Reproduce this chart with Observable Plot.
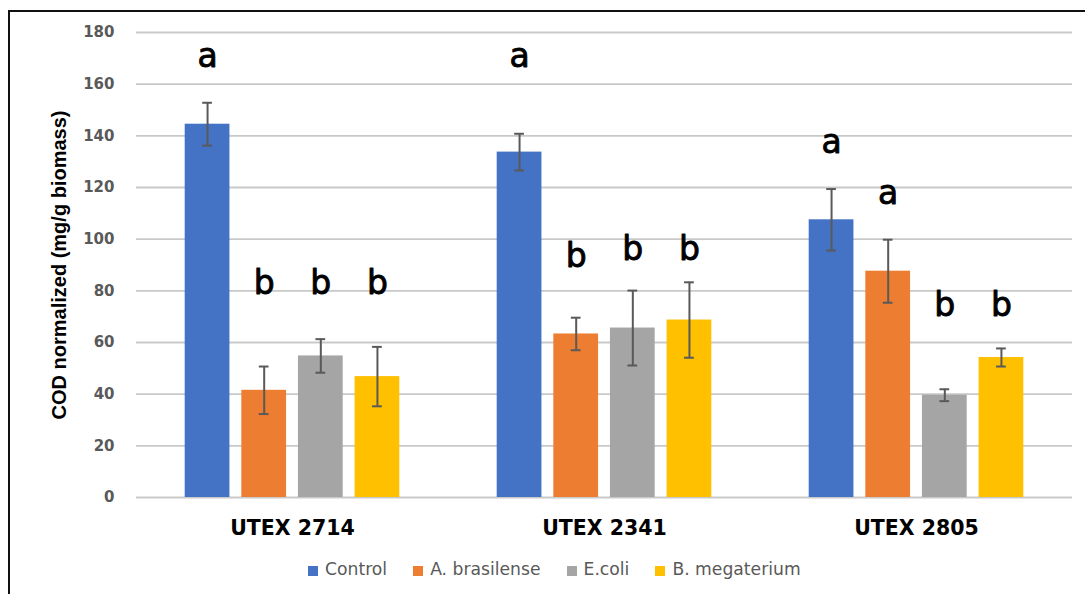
<!DOCTYPE html>
<html>
<head>
<meta charset="utf-8">
<script src="https://cdn.jsdelivr.net/npm/d3@7"></script>
<script src="https://cdn.jsdelivr.net/npm/@observablehq/plot@0.6"></script>
<style>
  html, body { margin: 0; padding: 0; background: #fff; overflow: hidden; }
  #wrap { position: relative; width: 1085px; height: 594px; }
  #frame { position: absolute; left: 7.5px; top: 9.5px; width: 1200px; height: 700px;
           border-left: 2px solid #111; border-top: 2px solid #111; box-sizing: border-box; }
  #chart { position: absolute; left: 0; top: 0; }
  #ytitle { position: absolute; left: 58.5px; top: 265px; transform: translate(-50%, -50%) rotate(-90deg);
            white-space: nowrap; font: bold 20px "Liberation Sans", Arial, sans-serif; color: #000; }
  #legend { position: absolute; left: 308px; top: 559px; display: flex; align-items: center;
            font: 17.2px "DejaVu Sans", sans-serif; color: #595959; line-height: 20px; white-space: nowrap; }
  #legend .item { display: flex; align-items: center; margin-right: 26px; }
  #legend .sw { width: 10px; height: 10px; margin-right: 7px; margin-top: 3px; }
</style>
</head>
<body>
<div id="wrap">
  <div id="frame"></div>
  <div id="chart"></div>
  <div id="ytitle">COD normalized (mg/g biomass)</div>
  <div id="legend"></div>
</div>
<script>
// ---- data ----
const groups = ["UTEX 2714", "UTEX 2341", "UTEX 2805"];
const series = ["Control", "A. brasilense", "E.coli", "B. megaterium"];
const colors = ["#4472C4", "#ED7D31", "#A5A5A5", "#FFC000"];
const yTicks = [0, 20, 40, 60, 80, 100, 120, 140, 160, 180];

const controlMean    = [144.5, 133.7, 107.5];
const brasilenseMean = [41.5, 63.3, 87.6];
const ecoliMean      = [54.8, 65.6, 39.6];
const megateriumMean = [46.8, 68.7, 54.2];

const controlErr    = [8.3, 7.1, 11.9];
const brasilenseErr = [9.2, 6.3, 12.2];
const ecoliErr      = [6.5, 14.5, 2.3];
const megateriumErr = [11.5, 14.6, 3.5];

const controlLetter    = ["a", "a", "a"];
const brasilenseLetter = ["b", "b", "a"];
const ecoliLetter      = ["b", "b", "b"];
const megateriumLetter = ["b", "b", "b"];

// letter baseline heights (in y units)
const controlLetterY    = [166.5, 166.5, 133.3];
const brasilenseLetterY = [78.6, 89.4, 113.7];
const ecoliLetterY      = [78.6, 92.1, 70.2];
const megateriumLetterY = [78.6, 92.1, 70.2];

// ---- build table ----
const means = [controlMean, brasilenseMean, ecoliMean, megateriumMean];
const errs = [controlErr, brasilenseErr, ecoliErr, megateriumErr];
const letters = [controlLetter, brasilenseLetter, ecoliLetter, megateriumLetter];
const letterYs = [controlLetterY, brasilenseLetterY, ecoliLetterY, megateriumLetterY];

const data = [];
groups.forEach((g, gi) => {
  series.forEach((s, si) => {
    data.push({
      group: g, series: s,
      value: means[si][gi], err: errs[si][gi],
      letter: letters[si][gi], ly: letterYs[si][gi]
    });
  });
});

const errColor = "#595959";
const gridColor = "#c9c9c9";

const chart = Plot.plot({
  width: 1085,
  height: 594,
  marginTop: 32,
  marginBottom: 97,
  marginLeft: 135,
  marginRight: 12,
  style: { fontFamily: "DejaVu Sans, sans-serif", background: "transparent", overflow: "visible" },
  fx: { domain: groups, padding: 0, axis: null },
  x: { domain: series, paddingInner: 0.21, paddingOuter: 0.86, round: false, axis: null },
  y: { domain: [0, 180], axis: null },
  color: { domain: series, range: colors },
  marks: [
    Plot.gridY(yTicks, { stroke: gridColor, strokeOpacity: 1, strokeWidth: 1.8 }),
    Plot.barY(data, { fx: "group", x: "series", y: "value", fill: "series" }),
    Plot.ruleX(data, { fx: "group", x: "series", y1: d => d.value - d.err, y2: d => d.value + d.err,
                       stroke: errColor, strokeWidth: 2 }),
    Plot.tickY(data, { fx: "group", x: "series", y: d => d.value + d.err, insetLeft: 17.5, insetRight: 17.5,
                       stroke: errColor, strokeWidth: 2 }),
    Plot.tickY(data, { fx: "group", x: "series", y: d => d.value - d.err, insetLeft: 17.5, insetRight: 17.5,
                       stroke: errColor, strokeWidth: 2 }),
    Plot.text(data, { fx: "group", x: "series", y: "ly", text: "letter", lineAnchor: "bottom",
                      fontSize: 33, fontFamily: "DejaVu Sans, sans-serif", fill: "#000",
                      stroke: "#000", strokeWidth: 0.9 }),
    Plot.axisY({ ticks: yTicks, tickSize: 0, tickPadding: 22, fontSize: 15, fontWeight: "bold",
                 fill: "#595959", label: null }),
    Plot.axisFx({ anchor: "bottom", tickSize: 0, tickPadding: 23, fontSize: 20.5, fontWeight: "bold",
                  fill: "#000", label: null })
  ]
});
document.getElementById("chart").appendChild(chart);

// ---- legend ----
const legend = document.getElementById("legend");
series.forEach((s, i) => {
  const item = document.createElement("div");
  item.className = "item";
  const sw = document.createElement("span");
  sw.className = "sw";
  sw.style.background = colors[i];
  const t = document.createElement("span");
  t.textContent = s;
  item.appendChild(sw);
  item.appendChild(t);
  legend.appendChild(item);
});
</script>
</body>
</html>
